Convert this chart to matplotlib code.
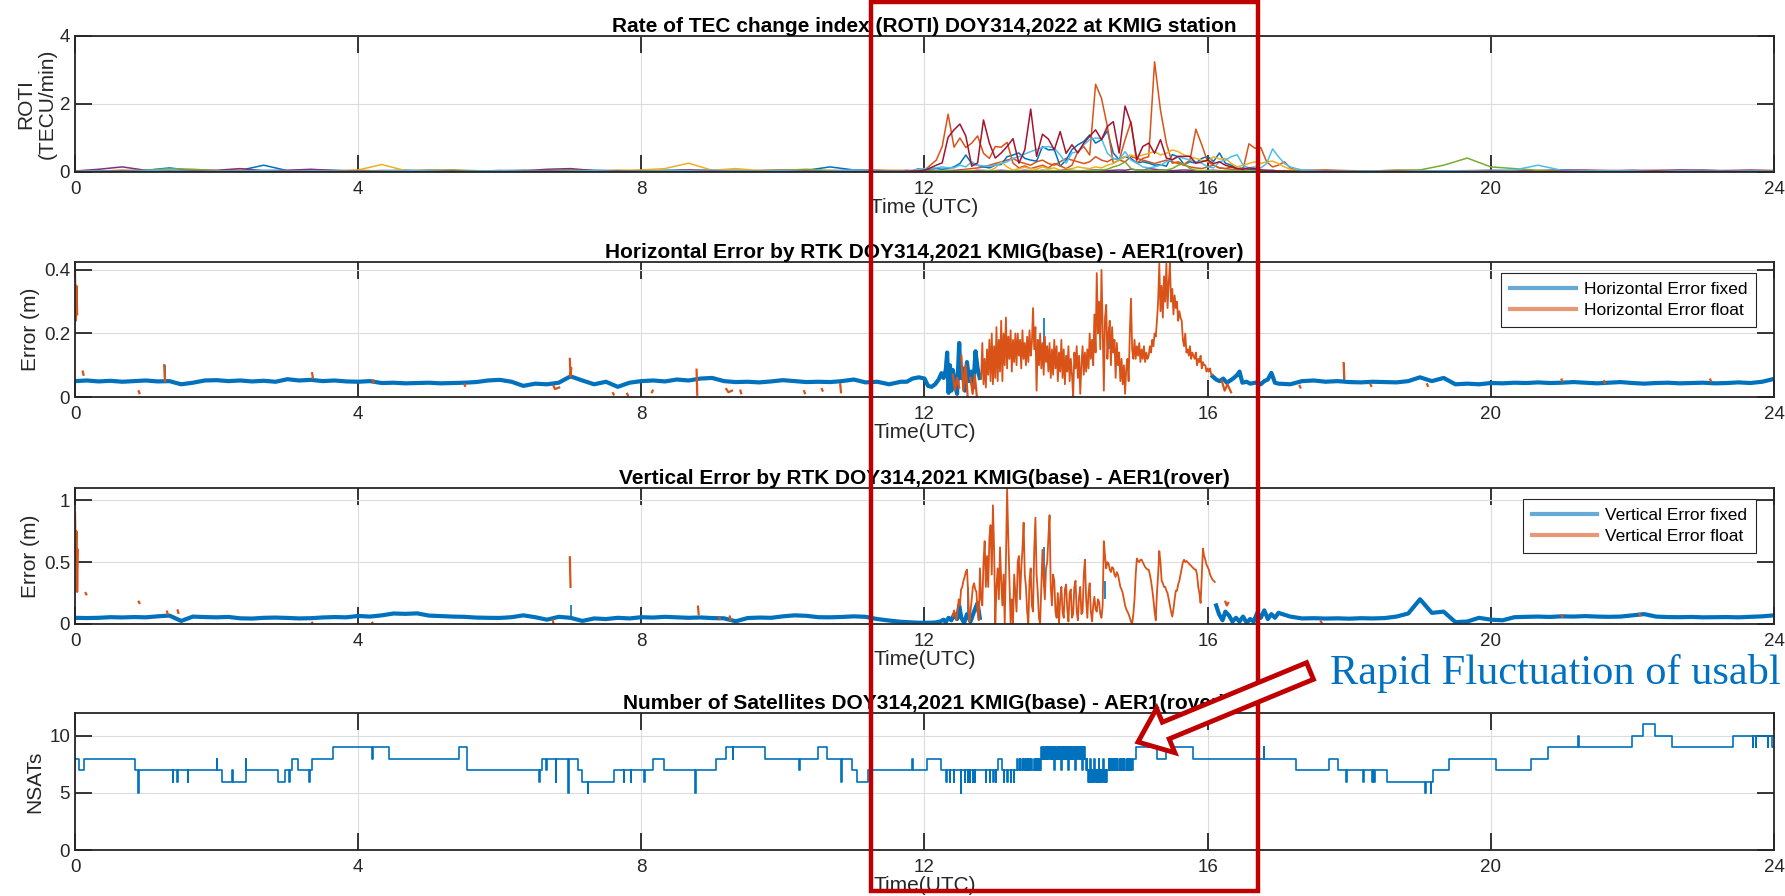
import numpy as np
import matplotlib
matplotlib.use("Agg")
import matplotlib.pyplot as plt
from matplotlib.lines import Line2D
from matplotlib.patches import Rectangle, FancyArrow

plt.rcParams['font.family'] = ['Liberation Sans', 'DejaVu Sans']

nan = np.nan

# MATLAB default colour order
C_BLUE, C_ORANGE, C_YELLOW = '#0072BD', '#D95319', '#EDB120'
C_PURPLE, C_GREEN, C_CYAN, C_MAROON = '#7E2F8E', '#77AC30', '#4DBEEE', '#A2142F'
AX_COLOR = '#262626'

hour_ticks = [0, 4, 8, 12, 16, 20, 24]
hour_labels = ['0', '4', '8', '12', '16', '20', '24']

# ---------------- ROTI (TECU/min) ----------------
# sample times: 20-min before the storm, 5-min during it, 20-min after
roti_t_early = np.arange(36) / 3.0           # 0 .. 11.67 h
roti_t_storm = 11.75 + np.arange(67) / 12.0  # 11.75 .. 17.25 h
roti_t_late = 17.0 + (1 + np.arange(21)) / 3.0  # 17.33 .. 24 h

roti_blue_early = [0.03,0.04,0.03,0.05,0.12,0.04,0.03,0.05,0.20,0.04, 0.06,0.05,0.03,0.04,0.05,0.03,0.04,0.03,0.04,0.05,
                   0.04,0.06,0.05,0.04,0.03,0.05,0.06,0.04,0.05,0.03, 0.04,0.05,0.15,0.06,0.04,0.03]
roti_orange_early = [0.02,0.03,0.05,0.03,0.04,0.02,0.03,0.04,0.03,0.02, 0.04,0.03,0.05,0.03,0.02,0.03,0.04,0.03,0.02,0.04,
                     0.03,0.05,0.03,0.04,0.03,0.02,0.06,0.04,0.03,0.04, 0.05,0.03,0.04,0.03,0.05,0.04]
roti_yellow_early = [0.03,0.02,0.04,0.03,0.02,0.03,0.04,0.08,0.03,0.02, 0.04,0.03,0.06,0.22,0.04,0.02,0.03,0.02,0.03,0.04,
                     0.03,0.02,0.03,0.05,0.06,0.10,0.26,0.05,0.10,0.04, 0.03,0.05,0.04,0.03,0.04,0.05]
roti_purple_early = [0.03,0.08,0.15,0.05,0.04,0.06,0.05,0.10,0.04,0.05, 0.08,0.04,0.03,0.04,0.03,0.05,0.04,0.03,0.04,0.03,
                     0.08,0.10,0.04,0.03,0.04,0.03,0.05,0.04,0.03,0.04, 0.05,0.03,0.04,0.05,0.04,0.03]
roti_green_early = [0.02,0.03,0.04,0.05,0.10,0.08,0.04,0.03,0.04,0.03, 0.02,0.03,0.04,0.03,0.04,0.05,0.06,0.04,0.03,0.02,
                    0.04,0.05,0.03,0.04,0.03,0.04,0.03,0.02,0.03,0.04, 0.05,0.08,0.04,0.03,0.04,0.02]
roti_cyan_early = [0.02,0.03,0.02,0.04,0.06,0.03,0.02,0.03,0.05,0.04, 0.03,0.02,0.03,0.02,0.04,0.03,0.02,0.03,0.04,0.02,
                   0.03,0.02,0.04,0.03,0.02,0.03,0.04,0.05,0.03,0.02, 0.04,0.03,0.02,0.06,0.03,0.02]
roti_maroon_early = [0.01,0.01,0.02,0.01,0.01,0.02,0.01,0.01,0.01,0.02, 0.01,0.01,0.02,0.01,0.01,0.01,0.02,0.01,0.01,0.01,
                     0.02,0.01,0.01,0.02,0.01,0.01,0.01,0.02,0.01,0.01, 0.01,0.02,0.01,0.01,0.02,0.01]

roti_blue_storm = [0.04,0.03,0.05,0.06,0.08,0.10,0.08,0.10,0.15,0.25, 0.50,0.25,0.20,0.15,0.12,0.20,0.22,0.45,0.50,0.56,
                   0.40,0.35,0.32,0.75,0.65,0.66,0.17,0.35,0.66,0.80, 0.90,1.09,0.85,0.95,1.21,0.56,0.36,0.45,0.40,0.26,
                   0.30,0.26,0.20,0.22,0.17,0.51,0.45,0.22,0.30,0.26, 0.40,0.46,0.31,0.56,0.26,0.20,0.10,0.12,0.08,0.06,
                   0.05,0.04,0.05,0.03,0.04,0.03,0.03]
roti_orange_storm = [0.05,0.04,0.10,0.05,0.20,0.35,0.75,1.70,0.73,1.00, 0.72,0.85,1.06,0.55,0.40,0.75,0.73,0.87,0.26,0.12,
                     0.18,0.10,0.15,0.20,0.12,0.25,0.18,0.10,0.20,0.60, 0.75,0.50,2.58,2.17,1.34,0.26,0.35,0.95,1.48,0.26,
                     0.40,0.45,3.24,1.82,0.85,0.26,0.30,0.22,0.35,1.26, 0.80,0.30,0.20,0.12,0.10,0.15,0.10,0.08,0.83,0.70,
                     0.72,0.30,0.15,0.20,0.30,0.12,0.05]
roti_orange2_storm = [0.02,0.02,0.03,0.02,0.03,0.02,0.03,0.04,0.05,0.06, 0.08,0.10,0.12,0.15,0.20,0.25,0.30,0.35,0.40,0.30,
                      0.25,0.20,0.30,0.35,0.25,0.20,0.30,0.40,0.35,0.30, 0.25,0.30,0.45,0.35,0.30,0.40,0.35,0.30,0.45,0.40,
                      0.35,0.30,0.25,0.30,0.35,0.30,0.25,0.20,0.15,0.12, 0.10,0.15,0.20,0.12,0.10,0.08,0.06,0.05,0.04,0.05,
                      0.04,0.03,0.04,0.03,0.03,0.02,0.02]
roti_yellow_storm = [0.02,0.03,0.04,0.03,0.05,0.04,0.03,0.05,0.04,0.03, 0.05,0.04,0.03,0.05,0.04,0.12,0.30,0.15,0.05,0.10,
                     0.14,0.10,0.08,0.15,0.10,0.12,0.05,0.08,0.10,0.15, 0.12,0.10,0.15,0.12,0.20,0.25,0.35,0.45,0.50,0.45,
                     0.50,0.55,0.60,0.50,0.55,0.65,0.60,0.50,0.45,0.40, 0.35,0.30,0.45,0.38,0.40,0.25,0.15,0.20,0.25,0.30,
                     0.25,0.30,0.32,0.25,0.15,0.08,0.05]
roti_purple_storm = [0.03,0.02,0.03,0.04,0.03,0.02,0.03,0.04,0.03,0.05, 0.04,0.03,0.05,0.04,0.03,0.04,0.05,0.04,0.03,0.04,
                     0.05,0.04,0.03,0.05,0.04,0.03,0.04,0.05,0.04,0.03, 0.04,0.05,0.06,0.05,0.04,0.05,0.06,0.05,0.08,0.06,
                     0.05,0.10,0.08,0.06,0.05,0.04,0.05,0.06,0.05,0.04, 0.03,0.04,0.05,0.04,0.03,0.04,0.03,0.04,0.05,0.04,
                     0.03,0.04,0.03,0.02,0.03,0.02,0.03]
roti_green_storm = [0.02,0.03,0.02,0.03,0.02,0.03,0.04,0.03,0.02,0.03, 0.04,0.03,0.02,0.03,0.04,0.03,0.02,0.03,0.04,0.03,
                    0.02,0.03,0.04,0.03,0.05,0.04,0.03,0.04,0.05,0.04, 0.03,0.04,0.05,0.06,0.08,0.15,0.20,0.30,0.10,0.05,
                    0.06,0.05,0.04,0.05,0.06,0.10,0.20,0.25,0.10,0.05, 0.04,0.05,0.04,0.03,0.04,0.05,0.04,0.03,0.04,0.03,
                    0.04,0.03,0.02,0.03,0.04,0.03,0.04]
roti_cyan_storm = [0.02,0.05,0.08,0.10,0.12,0.12,0.15,0.12,0.12,0.20, 0.15,0.30,0.20,0.18,0.17,0.20,0.25,0.30,0.40,0.45,
                   0.53,0.60,0.66,0.72,0.75,0.70,0.50,0.26,0.56,0.60, 0.80,0.95,1.00,0.98,0.55,0.40,0.36,0.60,0.35,0.26,
                   0.15,0.12,0.15,0.20,0.30,0.36,0.45,0.40,0.35,0.30, 0.26,0.15,0.12,0.30,0.35,0.45,0.51,0.20,0.12,0.15,
                   0.12,0.25,0.68,0.45,0.25,0.15,0.10]
roti_maroon_storm = [0.02,0.03,0.03,0.05,0.12,0.20,0.27,1.02,1.24,1.41, 1.06,0.17,0.27,1.53,0.85,0.41,0.56,0.75,0.98,0.26,
                     0.65,1.85,0.46,1.11,0.97,0.65,1.19,0.55,0.80,0.56, 0.85,1.05,1.24,0.95,1.34,1.48,0.56,1.94,1.43,0.36,
                     0.75,0.85,0.55,0.95,0.41,0.36,0.46,0.46,0.46,0.26, 0.30,0.35,0.25,0.30,0.20,0.15,0.10,0.08,0.12,0.10,
                     0.06,0.05,0.04,0.03,0.03,0.02,0.02]

roti_blue_late = [0.03,0.04,0.03,0.02,0.03,0.04,0.03,0.02,0.03,0.04, 0.03,0.05,0.04,0.03,0.04,0.03,0.04,0.05,0.03,0.04, 0.03]
roti_orange_late = [0.05,0.06,0.04,0.03,0.05,0.04,0.03,0.04,0.05,0.03, 0.04,0.03,0.05,0.04,0.03,0.05,0.04,0.03,0.04,0.05, 0.04]
roti_yellow_late = [0.04,0.03,0.02,0.03,0.02,0.03,0.02,0.03,0.02,0.03, 0.02,0.03,0.02,0.03,0.02,0.03,0.02,0.03,0.02,0.03, 0.02]
roti_purple_late = [0.02,0.03,0.02,0.03,0.02,0.02,0.03,0.02,0.03,0.02, 0.04,0.06,0.05,0.04,0.05,0.04,0.06,0.05,0.04,0.05, 0.04]
roti_green_late = [0.04,0.03,0.02,0.03,0.05,0.06,0.20,0.41,0.15,0.10, 0.05,0.04,0.03,0.02,0.03,0.02,0.03,0.02,0.03,0.02, 0.03]
roti_cyan_late = [0.06,0.03,0.02,0.03,0.02,0.03,0.04,0.03,0.05,0.06, 0.20,0.05,0.03,0.04,0.03,0.02,0.03,0.02,0.04,0.03, 0.02]
roti_maroon_late = [0.01,0.02,0.01,0.01,0.02,0.01,0.01,0.01,0.02,0.01, 0.01,0.02,0.01,0.01,0.01,0.02,0.01,0.01,0.02,0.01, 0.01]

# ---------------- RTK errors (m) ----------------
err_t_early = np.arange(71) / 6.0          # 10-min samples, 0 .. 11.67 h
err_t_late = 17.0 + np.arange(43) / 6.0    # 10-min samples, 17 .. 24 h

hfix_early = [0.050,0.052,0.049,0.051,0.048,0.050,0.052,0.049,
              0.050,0.040,0.045,0.052,0.053,0.050,0.052,0.049,0.051,0.048,
              0.056,0.052,0.054,0.050,0.052,0.049,
              0.048,0.050,0.044,0.045,0.043,0.044,
              0.045,0.043,0.044,0.045,0.047,0.052,0.054,0.048,0.035,0.042,0.040,0.045,
              0.065,0.052,0.040,0.048,0.032,0.045,
              0.050,0.052,0.049,0.055,0.052,0.058,
              0.060,0.050,0.047,0.048,0.046,0.049,
              0.053,0.050,0.047,0.048,0.047,0.050,
              0.055,0.046,0.048,0.040,0.048]
hfix_storm_t = [11.75,11.83,11.92,12.0,12.05,12.1,12.15,12.2,12.24,12.27,12.3,12.32,12.34,12.36,12.38,
                12.4,12.43,12.46,12.49,12.51,12.54,12.57,12.6,12.63,12.66,12.69,12.72,12.75,12.78]
hfix_storm = [0.048,0.058,0.062,0.058,0.035,0.032,0.040,0.055,0.075,0.060,0.085,0.140,0.013,0.100,0.020,
              0.085,0.045,0.010,0.170,0.060,0.090,0.020,0.110,0.050,0.080,0.030,0.144,0.090,0.060]
hfix_recover_t = [16.07,16.12,16.17,16.22,16.27,16.32,16.37,16.42,16.45,16.49,16.55,16.60,16.65,16.70,16.75,16.80,16.85,16.90,16.95]
hfix_recover = [0.065,0.055,0.050,0.058,0.045,0.052,0.060,0.070,0.080,0.045,0.048,0.042,0.044,0.046,0.040,0.050,0.055,0.076,0.045]
hfix_late = [0.042,0.040,0.050,0.052,0.048,0.050,0.047,0.046,0.048,0.047, 0.046,0.050,0.062,0.050,0.060,0.040,0.042,0.040,0.044,0.043,
             0.045,0.044,0.046,0.044,0.045,0.047,0.045,0.043,0.045,0.047, 0.044,0.042,0.044,0.045,0.043,0.044,0.045,0.043,0.044,0.046,
             0.044,0.048,0.057]
hfix_spike_t = [1.27, 13.69, 14.60, 17.92]
hfix_spike_lo = [0.050, 0.150, 0.150, 0.050]
hfix_spike_hi = [0.100, 0.250, 0.220, 0.107]

hflt_storm_t0 = 12.8    # 1-min samples from 12.8 h
hflt_storm = [0.06,0.17,0.04,0.12,0.03,0.15,0.07,0.18,0.05,0.20,
              0.04,0.16,0.06,0.22,0.05,0.18,0.08,0.24,0.05,0.20,
              0.10,0.25,0.09,0.19,0.12,0.21,0.08,0.18,0.11,0.20,
              0.10,0.20,0.13,0.18,0.09,0.21,0.12,0.17,0.10,0.19,
              0.11,0.21,0.13,0.17,0.28,0.15,0.22,0.02,0.18,0.10,
              0.20,0.09,0.17,0.07,0.19,0.11,0.16,0.08,0.17,0.06,
              0.15,0.07,0.18,0.09,0.16,0.05,0.14,0.08,0.18,0.06,
              0.15,0.04,0.13,0.08,0.16,0.05,0.12,0.07,0.00,0.14,
              0.09,0.16,0.06,0.13,0.01,0.10,0.16,0.07,0.14,0.08,
              0.15,0.09,0.20,0.12,0.18,0.10,0.26,0.14,0.39,0.20,
              0.30,0.15,0.40,0.22,0.02,0.25,0.29,0.12,0.20,0.24,
              0.10,0.22,0.14,0.18,0.06,0.17,0.10,0.14,0.05,0.12,
              0.04,0.10,0.01,0.09,0.12,0.05,0.20,0.31,0.15,0.12,
              0.18,0.12,0.16,0.13,0.17,0.11,0.15,0.12,0.16,0.11,
              0.14,0.12,0.13,0.16,0.14,0.18,0.16,0.20,0.19,0.24,
              0.30,0.42,0.27,0.35,0.25,0.38,0.30,0.42,0.28,0.36,
              0.42,0.30,0.34,0.26,0.32,0.28,0.30,0.24,0.27,0.25,
              0.24,0.18,0.16,0.20,0.14,0.15,0.13,0.16,0.12,0.14,
              0.13,0.12,0.14,0.10,0.12,0.11,0.13,0.09,0.11,0.10,
              0.10,0.08,0.09,0.08,0.09,0.07,0.07]
hflt_iso_t = [0.0,0.01,0.02,0.03,nan, 0.11,0.12,nan, 0.90,0.91,nan, 1.26,1.27,nan, 3.35,3.36,nan, 4.21,4.22,nan,
              5.50,5.51,nan, 6.76,6.78,6.84,nan, 6.99,7.0,7.01,nan, 7.60,7.61,nan, 7.80,7.81,nan, 8.15,8.16,nan,
              8.78,8.79,nan, 9.20,9.23,9.28,nan, 9.40,9.41,nan, 10.30,10.31,nan, 10.55,10.56,nan, 10.81,10.82,nan,
              12.40,12.43,12.46,12.49,nan, 12.52,12.55,12.58,12.61,nan, 12.65,12.68,12.71,12.74,nan,
              16.20,16.24,16.28,16.33,nan, 17.30,17.31,nan, 17.92,17.93,nan, 18.30,18.31,nan, 19.10,19.11,nan,
              21.00,21.01,nan, 21.60,21.61,nan, 23.10,23.11]
hflt_iso = [0.39,0.24,0.35,0.26,nan, 0.08,0.07,nan, 0.018,0.012,nan, 0.10,0.05,nan, 0.075,0.06,nan, 0.052,0.045,nan,
            0.04,0.035,nan, 0.035,0.025,0.03,nan, 0.12,0.065,0.09,nan, 0.012,0.008,nan, 0.010,0.005,nan, 0.015,0.02,nan,
            0.086,0.007,nan, 0.025,0.015,0.02,nan, 0.02,0.012,nan, 0.018,0.012,nan, 0.025,0.02,nan, 0.04,0.015,nan,
            0.07,0.02,0.06,0.03,nan, 0.13,0.02,0.10,0.00,nan, 0.06,0.01,0.07,0.00,nan,
            0.05,0.02,0.04,0.015,nan, 0.035,0.03,nan, 0.107,0.06,nan, 0.04,0.035,nan, 0.04,0.035,nan,
            0.055,0.05,nan, 0.05,0.045,nan, 0.055,0.05]

vfix_early = [0.050,0.048,0.050,0.055,0.053,0.056,0.054,0.062,0.068,0.025,
              0.060,0.056,0.054,0.057,0.046,0.044,0.050,0.052,0.049,0.045,
              0.047,0.053,0.056,0.054,0.065,0.060,0.070,0.085,0.082,0.086,
              0.068,0.064,0.060,0.058,0.052,0.050,0.049,0.055,0.070,0.055,
              0.035,0.058,0.050,0.025,0.045,0.040,0.050,0.045,0.055,0.052,
              0.058,0.054,0.050,0.053,0.048,0.046,0.022,0.048,0.052,0.050,
              0.062,0.070,0.066,0.055,0.054,0.057,0.062,0.058,0.040,0.028,
              0.018]
vfix_storm_t = [11.75,11.85,11.95,12.05,12.15,12.22,12.27,12.30,12.34,12.38,12.42,12.46,12.49,12.52,12.56,12.60,12.65,12.70,12.75,12.78]
vfix_storm = [0.015,0.012,0.010,0.010,0.012,0.020,0.035,0.015,0.050,0.030,0.080,0.040,0.150,0.050,0.010,0.080,0.020,0.100,0.170,0.050]
vfix_recover_t = [16.12,16.16,16.21,16.25,16.30,16.35,16.40,16.45,16.50,16.55,16.60,16.65,16.70,16.75,16.80,16.85,16.90,16.95]
vfix_recover = [0.15,0.08,0.03,0.10,0.07,0.02,0.05,0.02,0.06,0.01,0.04,0.02,0.09,0.05,0.11,0.04,0.08,0.05]
vfix_late = [0.09,0.06,0.045,0.047,0.044,0.046,0.043,0.047,0.045,0.048, 0.060,0.085,0.20,0.09,0.10,0.015,0.02,0.05,0.035,0.03,
             0.055,0.058,0.06,0.057,0.062,0.06,0.064,0.06,0.058,0.06, 0.07,0.08,0.06,0.056,0.055,0.057,0.054,0.055,0.056,0.054,
             0.058,0.062,0.07]
vfix_spike_t = [7.0, 12.62, 13.69, 14.55]
vfix_spike_lo = [0.05, 0.10, 0.30, 0.20]
vfix_spike_hi = [0.15, 0.30, 0.62, 0.35]

vflt_storm_t0 = 12.4    # 1-min samples from 12.4 h
vflt_storm = [0.06,0.11,0.08,0.03,0.10,0.20,0.15,0.28,0.30,0.35,
              0.38,0.42,0.44,0.25,0.02,0.10,0.20,0.30,0.33,0.28,
              0.26,0.10,0.03,0.45,0.20,0.15,0.50,0.67,0.30,0.55,
              0.30,0.70,0.80,0.40,0.96,0.60,0.00,0.30,0.45,0.20,
              0.62,0.35,0.15,0.40,0.00,0.50,1.10,0.70,0.35,0.00,
              0.20,0.00,0.40,0.25,0.10,0.50,0.55,0.20,0.45,0.60,
              0.82,0.40,0.30,0.10,0.00,0.35,0.45,0.15,0.10,0.60,
              0.86,0.40,0.25,0.05,0.00,0.30,0.60,0.35,0.20,0.45,
              0.50,0.70,0.88,0.30,0.15,0.40,0.35,0.10,0.05,0.25,
              0.00,0.20,0.30,0.10,0.05,0.28,0.32,0.12,0.02,0.25,
              0.28,0.05,0.08,0.30,0.35,0.10,0.03,0.22,0.30,0.08,
              0.10,0.40,0.52,0.20,0.05,0.25,0.33,0.10,0.02,0.15,
              0.22,0.12,0.10,0.20,0.18,0.08,0.05,0.15,0.67,0.55,
              0.45,0.50,0.49,0.44,0.42,0.46,0.45,0.40,0.38,0.42,
              0.40,0.35,0.30,0.28,0.25,0.20,0.15,0.12,0.10,0.08,
              0.05,0.02,0.00,0.08,0.20,0.40,0.53,0.51,0.50,0.52,
              0.52,0.50,0.48,0.46,0.45,0.44,0.44,0.40,0.35,0.28,
              0.20,0.10,0.03,0.25,0.40,0.59,0.50,0.35,0.33,0.30,
              0.30,0.27,0.25,0.20,0.15,0.10,0.06,0.12,0.20,0.27,
              0.27,0.32,0.35,0.40,0.45,0.50,0.52,0.50,0.51,0.50,
              0.49,0.48,0.47,0.46,0.45,0.44,0.44,0.40,0.30,0.25,
              0.17,0.40,0.61,0.55,0.52,0.48,0.46,0.44,0.40,0.38,
              0.36,0.35,0.34]
vflt_iso_t = [0.0,0.01,0.02,0.03,0.04,nan, 0.15,0.16,nan, 0.90,0.91,nan, 1.30,1.31,nan, 1.45,1.46,nan, 3.35,3.36,nan,
              4.20,4.21,nan, 6.75,6.76,nan, 6.99,7.00,nan, 8.80,8.81,nan, 9.10,9.11,nan, 9.25,9.26,nan,
              16.25,16.27,16.29,nan, 17.60,17.61,nan, 21.00,21.01,nan, 22.10,22.11]
vflt_iso = [0.90,0.50,0.75,0.26,0.60,nan, 0.25,0.24,nan, 0.18,0.17,nan, 0.10,0.08,nan, 0.11,0.09,nan, 0.01,0.00,nan,
            0.01,0.00,nan, 0.03,0.00,nan, 0.54,0.30,nan, 0.14,0.08,nan, 0.05,0.04,nan, 0.06,0.03,nan,
            0.18,0.15,0.17,nan, 0.02,0.01,nan, 0.07,0.06,nan, 0.08,0.07]

# ---------------- Number of satellites: (time h, count from that time on) ----------------
nsat_morning = [(0.00,8),(0.06,7),(0.13,8),(0.85,7),(0.89,5),(0.90,7),(1.38,6),(1.39,7),(1.44,6),(1.45,7),(1.59,6),(1.60,7),
                (2.00,8),(2.01,7),(2.08,6),(2.22,7),(2.23,6),(2.41,8),(2.42,7),(2.87,6),(2.97,7),(3.03,6),(3.04,7),(3.07,8),
                (3.15,7),(3.31,6),(3.32,7),(3.35,8),(3.64,9),(4.20,8),(4.21,9),(4.43,8),(5.42,9),(5.54,7),(6.56,6),(6.565,7),
                (6.60,8),(6.66,7),(6.67,8),(6.79,6),(6.80,8),(6.97,5),(6.98,8),(7.11,7),(7.16,6),(7.24,5),(7.25,6),(7.61,7),
                (7.75,6),(7.76,7),(7.85,6),(7.86,7),(8.04,6),(8.05,7),(8.16,8),(8.32,7),(8.76,5),(8.77,7),(9.05,8),(9.20,9),
                (9.29,8),(9.30,9),(9.74,8),(10.23,7),(10.24,8),(10.49,9),(10.62,8),(10.82,6),(10.83,8),(10.98,7),(11.04,6),
                (11.20,7),(11.83,8),(11.84,7),(12.04,8),(12.24,7)]
nsat_storm = [(12.31,6),(12.315,7),(12.36,6),(12.365,7),(12.41,6),(12.415,7),(12.51,5),(12.515,7),(12.57,6),(12.575,7),
              (12.61,6),(12.615,7),(12.64,6),(12.645,7),(12.68,6),(12.685,7),(12.71,6),(12.715,7),(12.87,6),(12.875,7),
              (12.92,6),(12.925,7),(12.97,6),(12.975,7),(13.01,6),(13.015,7),(13.04,8),(13.09,7),(13.12,6),(13.125,7),
              (13.17,6),(13.175,7),(13.22,6),(13.225,7),(13.26,6),(13.265,7),
              (13.31,8),(13.315,7),(13.35,8),(13.355,7),(13.38,8),(13.385,7),(13.41,8),(13.415,7),(13.43,8),(13.435,7),
              (13.46,8),(13.465,7),(13.48,8),(13.485,7),(13.51,8),(13.515,7),(13.55,8),(13.555,7),(13.57,8),(13.575,7),
              (13.60,8),(13.605,7),(13.63,8),(13.635,7),
              (13.65,9),(13.66,8),(13.67,9),(13.68,8),(13.69,9),(13.70,8),(13.71,9),(13.72,8),(13.73,9),(13.74,8),
              (13.75,9),(13.76,8),(13.77,9),(13.78,8),(13.79,9),(13.80,8),(13.81,9),(13.82,8),(13.83,7),(13.84,9),
              (13.85,8),(13.86,9),(13.87,8),(13.88,9),(13.89,8),(13.90,9),(13.91,8),(13.92,9),(13.93,7),(13.94,9),
              (13.95,8),(13.96,9),(13.97,8),(13.98,9),(13.99,8),(14.00,9),(14.01,8),(14.02,9),(14.03,7),(14.04,9),
              (14.05,8),(14.06,9),(14.07,8),(14.08,9),(14.09,8),(14.10,9),(14.11,8),(14.12,9),(14.13,7),(14.14,9),
              (14.15,8),(14.16,9),(14.17,8),(14.18,9),(14.19,8),(14.20,9),(14.21,8),(14.22,9),(14.23,7),(14.24,9),
              (14.25,8),(14.26,9),(14.27,8),(14.28,7),(14.29,8),
              (14.30,7),(14.31,6),(14.32,7),(14.33,6),(14.34,8),(14.35,6),(14.36,7),(14.37,6),(14.38,7),(14.39,6),
              (14.40,8),(14.41,6),(14.42,7),(14.43,6),(14.44,7),(14.45,6),(14.46,8),(14.47,6),(14.48,7),(14.49,6),
              (14.50,7),(14.51,6),(14.52,8),(14.53,6),(14.54,7),(14.55,6),(14.56,7),(14.57,6),(14.58,7),
              (14.60,8),(14.605,7),(14.62,8),(14.625,7),(14.65,8),(14.655,7),(14.67,8),(14.675,7),(14.70,8),(14.705,7),
              (14.72,8),(14.725,7),(14.75,8),(14.755,7),(14.77,8),(14.775,7),(14.80,8),(14.805,7),(14.82,8),(14.825,7),
              (14.85,8),(14.855,7),(14.87,8),(14.875,7),(14.90,8),(14.905,7),(14.92,8),(14.925,7),(14.94,8)]
nsat_evening = [(14.99,9),(15.29,8),(15.41,9),(15.79,8),(16.79,9),(16.80,8),(17.25,7),(17.71,8),(17.84,7),
                (17.96,6),(17.97,7),(18.20,6),(18.21,7),(18.32,6),(18.33,7),(18.35,6),(18.36,7),(18.53,6),
                (19.07,5),(19.08,6),(19.15,5),(19.16,6),(19.18,7),(19.41,8),(20.08,7),(20.57,8),(20.81,9),
                (21.23,10),(21.24,9),(21.99,10),(22.15,11),(22.32,10),(22.56,9),(23.42,10),(23.70,9),(23.71,10),
                (23.74,9),(23.75,10),(23.91,9),(23.92,10),(23.97,9),(24.0,9)]

# ---------------- figure ----------------
W, H = 1785, 896
fig = plt.figure(figsize=(W / 100, H / 100), dpi=100)
fig.patch.set_facecolor('white')


def axes_px(left, top, right, bottom):
    return fig.add_axes([left / W, 1 - bottom / H, (right - left) / W, (bottom - top) / H])


ax1 = axes_px(75, 36, 1774, 172)
ax2 = axes_px(75, 262, 1774, 397)
ax3 = axes_px(75, 488, 1774, 624)
ax4 = axes_px(75, 713, 1774, 850)


def style(ax, ylim, yticks, ylabels, title, xlabel, ylabel, ylabel_x):
    ax.set_xlim(0, 24)
    ax.set_ylim(*ylim)
    ax.set_xticks(hour_ticks)
    ax.set_xticklabels(hour_labels)
    ax.set_yticks(yticks)
    ax.set_yticklabels(ylabels)
    ax.tick_params(direction='in', length=12, width=1.3, top=True, right=True,
                   labelsize=13.5, color=AX_COLOR, labelcolor=AX_COLOR)
    ax.tick_params(axis='x', pad=6.5)
    ax.tick_params(axis='y', pad=3.5)
    ax.grid(True, color='#dcdcdc', lw=0.8)
    ax.set_axisbelow(True)
    for s in ax.spines.values():
        s.set_linewidth(1.3)
        s.set_color(AX_COLOR)
    ax.set_title(title, fontsize=15, fontweight='bold', pad=3, color='black')
    ax.set_xlabel(xlabel, fontsize=15, labelpad=0, color=AX_COLOR)
    ax.set_ylabel(ylabel, fontsize=15, color=AX_COLOR, multialignment='center')
    ax.yaxis.set_label_coords(ylabel_x, 0.5)


# ROTI panel
roti_sets = [
    (C_ORANGE, None, roti_orange2_storm, None),
    (C_BLUE, roti_blue_early, roti_blue_storm, roti_blue_late),
    (C_ORANGE, roti_orange_early, roti_orange_storm, roti_orange_late),
    (C_YELLOW, roti_yellow_early, roti_yellow_storm, roti_yellow_late),
    (C_PURPLE, roti_purple_early, roti_purple_storm, roti_purple_late),
    (C_GREEN, roti_green_early, roti_green_storm, roti_green_late),
    (C_CYAN, roti_cyan_early, roti_cyan_storm, roti_cyan_late),
    (C_MAROON, roti_maroon_early, roti_maroon_storm, roti_maroon_late),
]
for color, early, storm, late in roti_sets:
    if early is None:
        ax1.plot(roti_t_storm, storm, color=color, lw=1.1)
    else:
        t = np.concatenate([roti_t_early, roti_t_storm, roti_t_late])
        v = np.concatenate([early, storm, late])
        ax1.plot(t, v, color=color, lw=1.1)
style(ax1, (0, 4), [0, 2, 4], ['0', '2', '4'],
      'Rate of TEC change index (ROTI) DOY314,2022 at KMIG station',
      'Time (UTC)', 'ROTI\n(TECU/min)', -0.0106)


def error_panel(ax, fix_early, fix_storm_t, fix_storm, fix_rec_t, fix_rec, fix_late,
                sp_t, sp_lo, sp_hi, flt_t0, flt_storm, iso_t, iso_v):
    t_fix = np.concatenate([err_t_early, fix_storm_t, [nan], fix_rec_t, err_t_late])
    v_fix = np.concatenate([fix_early, fix_storm, [nan], fix_rec, fix_late])
    ax.plot(t_fix, v_fix, color=C_BLUE, lw=3.0, solid_joinstyle='round')
    ax.vlines(sp_t, sp_lo, sp_hi, color=C_BLUE, lw=1.2)
    t_flt = flt_t0 + np.arange(len(flt_storm)) / 60.0
    ax.plot(t_flt, flt_storm, color=C_ORANGE, lw=1.3)
    ax.plot(iso_t, iso_v, color=C_ORANGE, lw=1.6)


error_panel(ax2, hfix_early, hfix_storm_t, hfix_storm, hfix_recover_t, hfix_recover, hfix_late,
            hfix_spike_t, hfix_spike_lo, hfix_spike_hi, hflt_storm_t0, hflt_storm, hflt_iso_t, hflt_iso)
style(ax2, (0, 0.425), [0, 0.2, 0.4], ['0', '0.2', '0.4'],
      'Horizontal Error by RTK DOY314,2021 KMIG(base) - AER1(rover)',
      'Time(UTC)', 'Error (m)', -0.0206)

error_panel(ax3, vfix_early, vfix_storm_t, vfix_storm, vfix_recover_t, vfix_recover, vfix_late,
            vfix_spike_t, vfix_spike_lo, vfix_spike_hi, vflt_storm_t0, vflt_storm, vflt_iso_t, vflt_iso)
style(ax3, (0, 1.1), [0, 0.5, 1], ['0', '0.5', '1'],
      'Vertical Error by RTK DOY314,2021 KMIG(base) - AER1(rover)',
      'Time(UTC)', 'Error (m)', -0.0206)


def legend(ax, labels, anchor):
    handles = [Line2D([], [], color=C_BLUE, lw=3, alpha=0.6),
               Line2D([], [], color=C_ORANGE, lw=3, alpha=0.6)]
    leg = ax.legend(handles, labels, loc='upper right', bbox_to_anchor=anchor, borderaxespad=0,
                    fontsize=12.5, frameon=True, fancybox=False, framealpha=1, edgecolor=AX_COLOR,
                    handlelength=3.8, handletextpad=0.45, labelspacing=0.35, borderpad=0.5)
    leg.get_frame().set_linewidth(0.8)


legend(ax2, ['Horizontal Error fixed', 'Horizontal Error float'], (0.9894, 0.9185))
legend(ax3, ['Vertical Error fixed', 'Vertical Error float'], (0.9894, 0.9191))

# satellites panel
nsat_t, nsat_v = zip(*(nsat_morning + nsat_storm + nsat_evening))
ax4.plot(nsat_t, nsat_v, color=C_BLUE, lw=1.2, drawstyle='steps-post')
style(ax4, (0, 12), [0, 5, 10], ['0', '5', '10'],
      'Number of Satellites DOY314,2021 KMIG(base) - AER1(rover)',
      'Time(UTC)', 'NSATs', -0.018)

# highlight box around the disturbed interval
fig.add_artist(Rectangle((871 / W, 1 - 891 / H), (1258 - 871) / W, (891 - 2) / H,
                         transform=fig.transFigure, fill=False, ec='#C00000', lw=3.2, zorder=20))

# hollow arrow pointing at the satellite-count jumps (inch coordinates keep the shape undistorted)
fig.add_artist(FancyArrow(13.10, 2.25, -1.72, -0.71, width=0.18, head_width=0.48, head_length=0.30,
                          length_includes_head=True, transform=fig.dpi_scale_trans,
                          fc='white', ec='#C00000', lw=3.5, joinstyle='miter', zorder=21))
fig.text(13.30, 2.12, 'Rapid Fluctuation of usabl', transform=fig.dpi_scale_trans,
         fontsize=30.5, family=['Liberation Serif', 'DejaVu Serif'], color='#0070C0',
         ha='left', va='baseline', zorder=22)

fig.savefig('out.png', dpi=100, facecolor='white')
